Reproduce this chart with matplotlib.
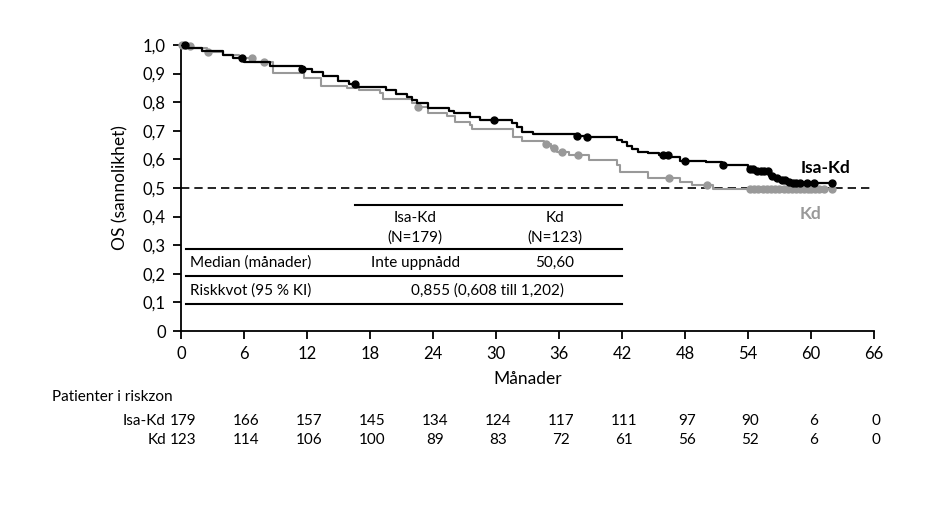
import numpy as np
import matplotlib
matplotlib.use("Agg")
from matplotlib import pyplot as plt
import matplotlib.transforms as mtransforms

plt.rcParams['font.family'] = ['Lato', 'DejaVu Sans']

# ---- Kaplan-Meier steps ----
isa_t = [0, 0.5, 2, 4, 5, 6, 8.5, 11.5, 12.5, 13.5, 15, 16, 16.8, 19.5, 20.5, 21.5, 22, 22.5,
         23.5, 25.5, 26, 27.5, 28.5, 31.5, 32, 32.5, 33.5, 37.5, 38.5, 41.5, 42, 42.5, 43, 43.5,
         44.5, 45.5, 46.5, 47.5, 50, 51.5, 54, 54.8, 56, 56.5, 57.2, 57.8, 58.2, 62]
isa_s = [1.0, 0.99, 0.98, 0.965, 0.955, 0.94, 0.927, 0.916, 0.905, 0.89, 0.875, 0.865, 0.853,
         0.843, 0.829, 0.818, 0.808, 0.797, 0.78, 0.77, 0.762, 0.748, 0.738, 0.727, 0.715, 0.696,
         0.689, 0.682, 0.678, 0.668, 0.661, 0.647, 0.635, 0.626, 0.622, 0.615, 0.608, 0.594,
         0.591, 0.58, 0.565, 0.559, 0.542, 0.535, 0.528, 0.521, 0.517, 0.517]
isa_cens = [0.4, 5.8, 11.5, 16.6, 29.8, 37.7, 38.7, 45.9, 46.4, 48.0, 51.6, 54.2, 54.5, 54.9,
            55.2, 55.5, 55.9, 56.3, 56.8, 57.2, 57.5, 57.9, 58.3, 58.6, 59.0, 59.6, 60.3, 62.0]

kd_t = [0, 0.3, 1, 2.5, 4, 5.5, 7, 8.8, 11.7, 13.3, 15.8, 17, 19, 19.2, 22, 22.6, 23.5, 25.3,
        26.1, 27.5, 27.7, 31.6, 32.5, 34.6, 35.2, 35.8, 37, 38.9, 41.5, 41.8, 44.5, 47.5, 48.7,
        50.7, 62]
kd_s = [1.0, 0.995, 0.99, 0.975, 0.965, 0.955, 0.94, 0.902, 0.885, 0.855, 0.85, 0.843, 0.832,
        0.811, 0.797, 0.783, 0.762, 0.752, 0.731, 0.72, 0.706, 0.678, 0.664, 0.655, 0.64, 0.625,
        0.615, 0.598, 0.58, 0.556, 0.535, 0.521, 0.51, 0.497, 0.497]
kd_cens = [0.1, 0.9, 2.6, 6.8, 7.9, 22.6, 34.8, 35.5, 36.3, 37.8, 46.5, 50.1, 54.2, 54.6, 55.0,
           55.4, 55.8, 56.2, 56.6, 57.0, 57.4, 57.8, 58.2, 58.6, 59.0, 59.3, 59.7, 60.0, 60.4,
           60.8, 61.2, 62.0]

months = [0, 6, 12, 18, 24, 30, 36, 42, 48, 54, 60, 66]
risk_isa = [179, 166, 157, 145, 134, 124, 117, 111, 97, 90, 6, 0]
risk_kd = [123, 114, 106, 100, 89, 83, 72, 61, 56, 52, 6, 0]

black = '#000000'
grey = '#999999'


def km_at(t, times, surv):
    idx = np.searchsorted(times, t, side='right') - 1
    return np.array(surv)[idx]


fig = plt.figure(figsize=(9.45, 5.2), dpi=100)
ax = fig.add_axes([181 / 945, 1 - 331 / 520, (874 - 181) / 945, (331 - 45) / 520])

ax.step(kd_t, kd_s, where='post', color=grey, lw=1.5, zorder=3)
ax.step(isa_t, isa_s, where='post', color=black, lw=1.6, zorder=4)
ax.plot(kd_cens, km_at(kd_cens, kd_t, kd_s), 'o', color=grey, ms=5, zorder=3, clip_on=False)
ax.plot(isa_cens, km_at(isa_cens, isa_t, isa_s), 'o', color=black, ms=5, zorder=4, clip_on=False)

ax.axhline(0.5, color=black, lw=1.2, ls=(0, (5, 3)), zorder=2)

ax.set_xlim(0, 66)
ax.set_ylim(0, 1.0)
ax.set_xticks(months)
ax.set_xticklabels([str(m) for m in months])
yt = np.round(np.arange(0, 1.01, 0.1), 1)
ax.set_yticks(yt)
ax.set_yticklabels(['0' if v == 0 else f'{v:.1f}'.replace('.', ',') for v in yt])
for s in ['top', 'right']:
    ax.spines[s].set_visible(False)
for s in ['left', 'bottom']:
    ax.spines[s].set_linewidth(1.3)
ax.tick_params(direction='out', length=6, width=1.3, labelsize=12, pad=5)
ax.set_ylabel('OS (sannolikhet)', fontsize=12.5, labelpad=10)
ax.set_xlabel('Månader', fontsize=12.5, labelpad=6)

ax.text(59.0, 0.57, 'Isa-Kd', fontsize=12.5, fontweight='bold', color=black, va='center', ha='left')
ax.text(58.9, 0.41, 'Kd', fontsize=12.5, fontweight='bold', color=grey, va='center', ha='left')

# ---- inset table ----
tl = dict(color=black, lw=1.5)
ax.plot([16.6, 42], [0.44, 0.44], **tl)
for yy in [0.287, 0.192, 0.094]:
    ax.plot([0.5, 42], [yy, yy], **tl)
ts = 11
ax.text(22.3, 0.396, 'Isa-Kd', ha='center', va='center', fontsize=ts)
ax.text(22.3, 0.326, '(N=179)', ha='center', va='center', fontsize=ts)
ax.text(35.6, 0.396, 'Kd', ha='center', va='center', fontsize=ts)
ax.text(35.6, 0.326, '(N=123)', ha='center', va='center', fontsize=ts)
ax.text(0.9, 0.238, 'Median (månader)', ha='left', va='center', fontsize=ts)
ax.text(22.3, 0.238, 'Inte uppnådd', ha='center', va='center', fontsize=ts)
ax.text(35.6, 0.238, '50,60', ha='center', va='center', fontsize=ts)
ax.text(0.9, 0.143, 'Riskkvot (95 % KI)', ha='left', va='center', fontsize=ts)
ax.text(29.2, 0.143, '0,855 (0,608 till 1,202)', ha='center', va='center', fontsize=ts)

# ---- numbers at risk ----
trans = mtransforms.blended_transform_factory(ax.transData, fig.transFigure)
fig.text(52 / 945, 1 - 397 / 520, 'Patienter i riskzon', ha='left', va='center', fontsize=11)
fig.text(166 / 945, 1 - 421 / 520, 'Isa-Kd', ha='right', va='center', fontsize=11)
fig.text(166 / 945, 1 - 440 / 520, 'Kd', ha='right', va='center', fontsize=11)
for m, a, b in zip(months, risk_isa, risk_kd):
    ax.text(m + 0.2, 1 - 421 / 520, str(a), ha='center', va='center', fontsize=11, transform=trans)
    ax.text(m + 0.2, 1 - 440 / 520, str(b), ha='center', va='center', fontsize=11, transform=trans)

fig.savefig('out.png', dpi=100)
